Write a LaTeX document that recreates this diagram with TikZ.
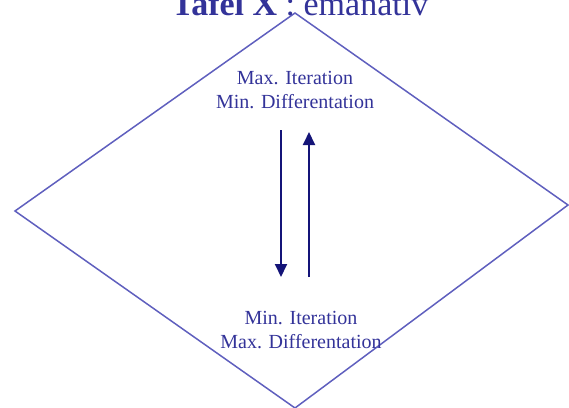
\documentclass[tikz,border=0pt]{standalone}
\usepackage{fontspec}
\setmainfont{Liberation Serif}
\usetikzlibrary{arrows.meta}
\definecolor{textblue}{RGB}{51,51,153}
\definecolor{lineblue}{RGB}{95,95,190}
\definecolor{arrowblue}{RGB}{20,20,120}

\begin{document}
\begin{tikzpicture}[x=1pt,y=-1pt,
  lbl/.style={text=textblue,font=\fontsize{20}{24}\selectfont,align=center,inner sep=0pt},
  flow/.style={draw=arrowblue,line width=1.9pt,-{Triangle[length=13pt,width=12pt]}}]
\useasboundingbox (0,0) rectangle (569,407);
% diamond
\coordinate (top) at (295,13);
\coordinate (right) at (568,205);
\coordinate (bottom) at (295,408);
\coordinate (left) at (15,211);
\draw[lineblue,line width=1.5pt] (top) -- (right) -- (bottom) -- (left) -- cycle;
% title
\node[text=textblue,font=\fontsize{34}{40}\selectfont,anchor=base,inner sep=0pt] (title) at (300,15) {\textbf{Tafel X} : emanativ};
% texts
\node[lbl] (upper) at (295,90) {Max. Iteration\\Min. Differentation};
\node[lbl] (lower) at (301,330) {Min. Iteration\\Max. Differentation};
% arrows
\coordinate (d1) at (281,130);
\coordinate (d2) at (281,277);
\coordinate (u1) at (309,277);
\coordinate (u2) at (309,132);
\draw[flow] (d1) -- (d2);
\draw[flow] (u1) -- (u2);
\end{tikzpicture}
\end{document}
